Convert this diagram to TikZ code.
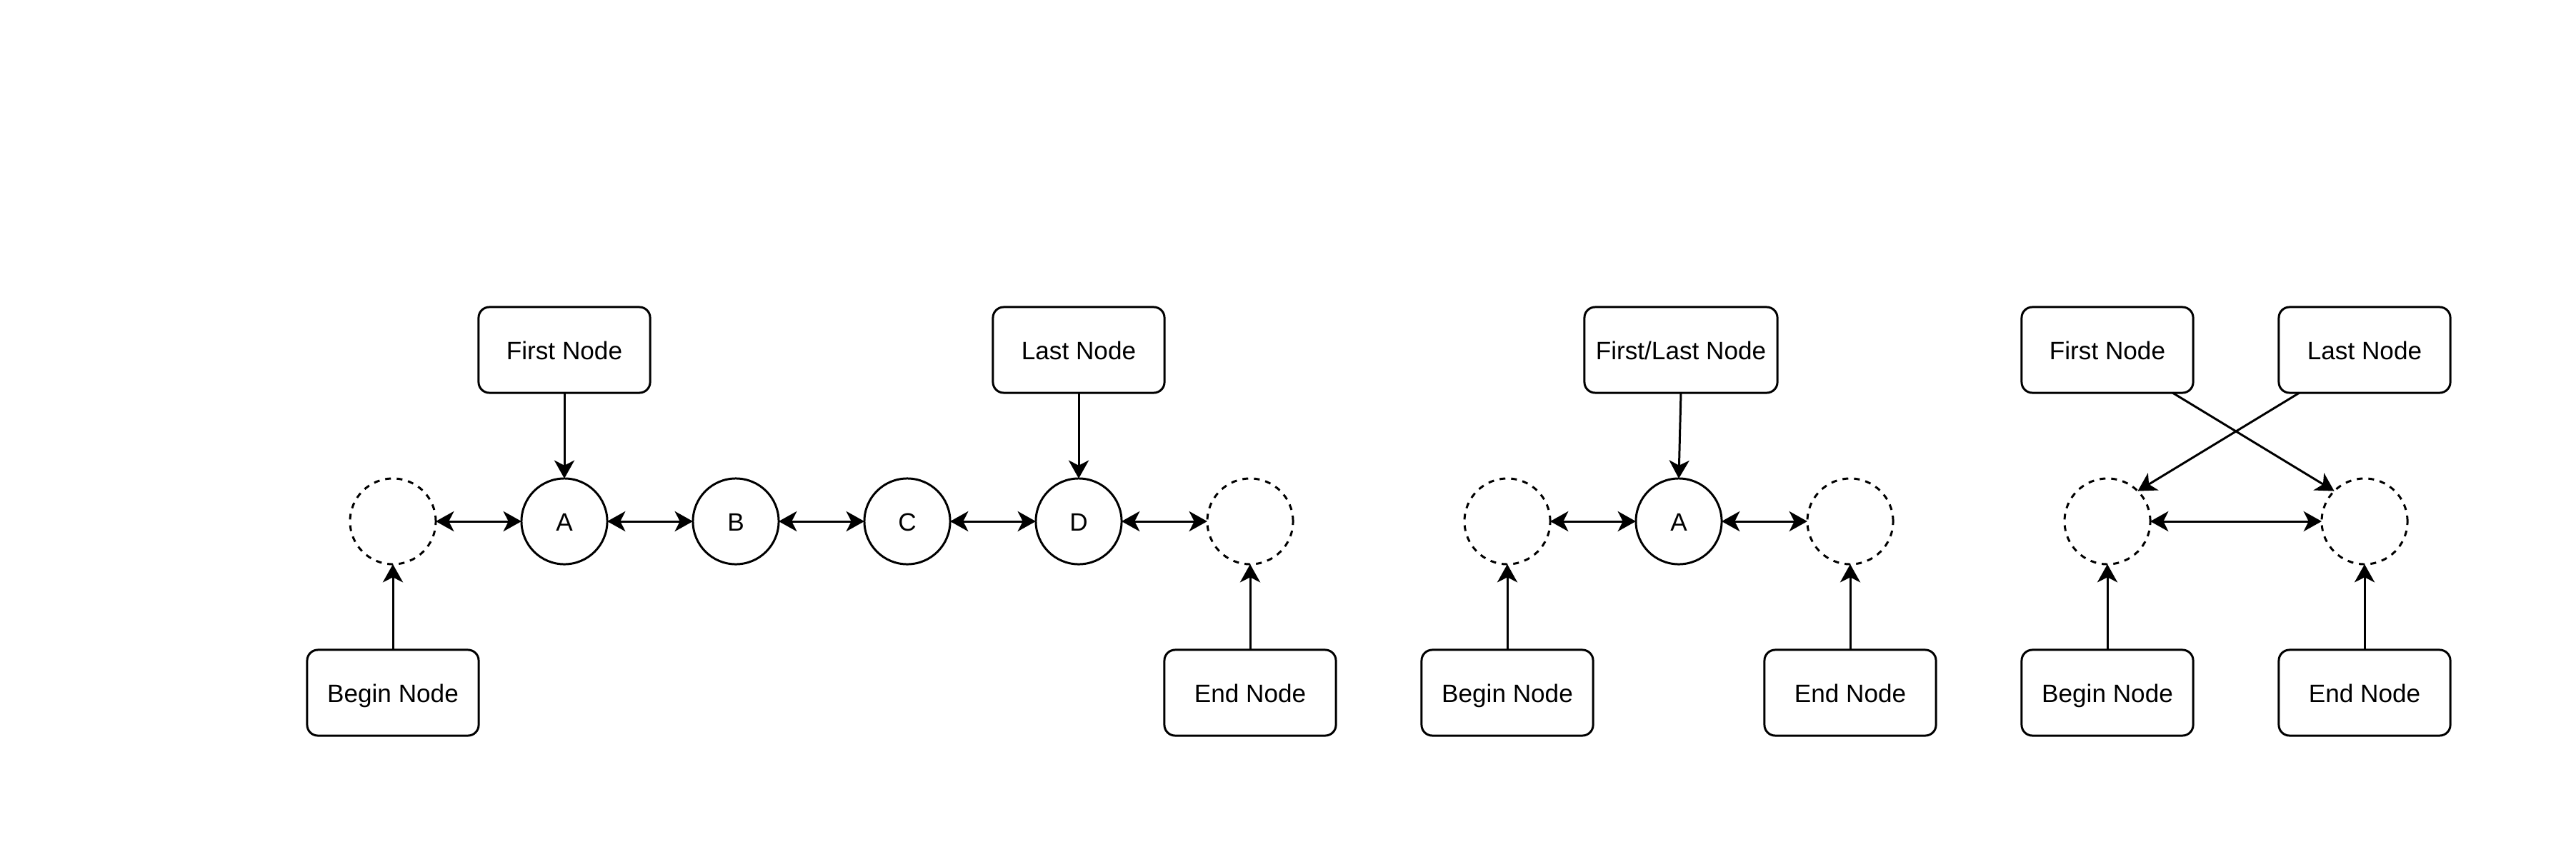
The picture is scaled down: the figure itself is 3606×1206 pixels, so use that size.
\documentclass[tikz,border=0pt]{standalone}
\usepackage{fontspec}
\setmainfont{Liberation Sans}
\usetikzlibrary{arrows.meta,calc}
\begin{document}
\begin{tikzpicture}[x=0.01cm,y=-0.01cm,
  txt/.style={font=\fontsize{10}{12}\selectfont, text height=0.94em, text depth=0.2em},
  box/.style={draw, line width=0.85pt, rounded corners=0.15cm, minimum width=2.4cm, minimum height=1.2cm, inner sep=0pt, outer sep=0pt, txt},
  elem/.style={draw, circle, line width=0.85pt, minimum size=1.2cm, inner sep=0pt, outer sep=0pt, txt},
  ghost/.style={elem, dash pattern=on 2.3pt off 2.3pt},
  tip/.tip={Stealth[length=7.2pt,width=8pt,inset=2pt]},
  link/.style={line width=0.85pt, -tip},
  dlink/.style={line width=0.85pt, tip-tip}
]
\useasboundingbox (0,0) rectangle (3606,1206);

% group 1
\node[box] (f1) at (790,490) {First Node};
\node[box] (l1) at (1510,490) {Last Node};
\node[ghost] (g1) at (550,730) {};
\node[elem] (a1) at (790,730) {A};
\node[elem] (b1) at (1030,730) {B};
\node[elem] (c1) at (1270,730) {C};
\node[elem] (d1) at (1510,730) {D};
\node[ghost] (g2) at (1750,730) {};
\node[box] (bn1) at (550,970) {Begin Node};
\node[box] (en1) at (1750,970) {End Node};
\draw[link] (f1) -- (a1);
\draw[link] (l1) -- (d1);
\draw[link] (bn1) -- (g1);
\draw[link] (en1) -- (g2);
\draw[dlink] (g1) -- (a1);
\draw[dlink] (a1) -- (b1);
\draw[dlink] (b1) -- (c1);
\draw[dlink] (c1) -- (d1);
\draw[dlink] (d1) -- (g2);

% group 2
\node[box, minimum width=2.7cm] (fl2) at (2353,490) {First/Last Node};
\node[ghost] (g3) at (2110,730) {};
\node[elem] (a2) at (2350,730) {A};
\node[ghost] (g4) at (2590,730) {};
\node[box] (bn2) at (2110,970) {Begin Node};
\node[box] (en2) at (2590,970) {End Node};
\draw[link] (fl2.south) -- (a2.north);
\draw[dlink] (g3) -- (a2);
\draw[dlink] (a2) -- (g4);
\draw[link] (bn2) -- (g3);
\draw[link] (en2) -- (g4);

% group 3
\node[box] (f3) at (2950,490) {First Node};
\node[box] (l3) at (3310,490) {Last Node};
\node[ghost] (g5) at (2950,730) {};
\node[ghost] (g6) at (3310,730) {};
\node[box] (bn3) at (2950,970) {Begin Node};
\node[box] (en3) at (3310,970) {End Node};
\coordinate (f3x) at ($(f3.south west)!0.88!(f3.south east)$);
\coordinate (l3x) at ($(l3.south west)!0.12!(l3.south east)$);
\draw[link] (f3x) -- (g6.135);
\draw[link] (l3x) -- (g5.45);
\draw[dlink] (g5) -- (g6);
\draw[link] (bn3) -- (g5);
\draw[link] (en3) -- (g6);
\end{tikzpicture}
\end{document}
